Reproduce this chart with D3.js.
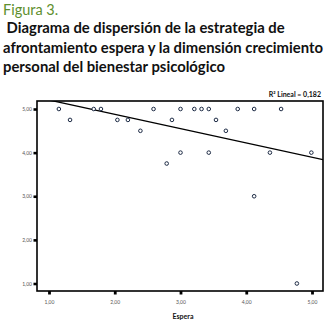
<!DOCTYPE html>
<html>
<head>
<meta charset="utf-8">
<script src="https://cdn.jsdelivr.net/npm/d3@7"></script>
<style>
  body { margin: 0; background: #fff; }
  svg { display: block; }
</style>
</head>
<body>
<div id="vis"></div>
<script>
// Scatter: Espera (x) vs Crecimiento personal (y), SPSS-style with linear fit.

const TITLE_FIG   = "Figura 3.";
const TITLE_LINES = [
  " Diagrama de dispersión de la estrategia de",
  "afrontamiento espera y la dimensión crecimiento",
  "personal del bienestar psicológico",
];

const ESPERA = [1.15, 1.32, 1.68, 1.79, 2.04, 2.20, 2.39, 2.59, 2.79, 2.87,
                3.00, 3.21, 3.32, 3.43, 3.54, 3.69, 3.87, 4.12, 4.53,
                3.00, 3.43, 4.36, 4.99, 4.12, 4.77];
const CRECIM = [5.00, 4.75, 5.00, 5.00, 4.75, 4.75, 4.50, 5.00, 3.75, 4.75,
                5.00, 5.00, 5.00, 5.00, 4.75, 4.50, 5.00, 5.00, 5.00,
                4.00, 4.00, 4.00, 4.00, 3.00, 1.00];

const X_TICKS = [1, 2, 3, 4, 5];
const Y_TICKS = [1, 2, 3, 4, 5];
const FIT     = { intercept: 5.534, slope: -0.328 };
const R2_TEXT = "R² Lineal = 0,182";
const X_LABEL = "Espera";

const W = 328, H = 321;
const fmt = d => d3.format(".2f")(d).replace(".", ",");

const svg = d3.select("#vis").append("svg").attr("width", W).attr("height", H);

// ── Titles ──────────────────────────────────────────────────────────────────
svg.append("text")
  .attr("x", 3).attr("y", 15)
  .style("font-family", "Lato, 'Open Sans', sans-serif")
  .style("font-size", "14.5px").style("fill", "#5e8f2e")
  .text(TITLE_FIG);

const titleG = svg.append("g")
  .style("font-family", "Lato, 'Open Sans', sans-serif")
  .style("font-weight", "bold").style("fill", "#111");

const tl = titleG.selectAll("text").data(TITLE_LINES).join("text")
  .attr("x", 3).attr("y", (d, i) => 33 + i * 19.5)
  .attr("xml:space", "preserve")
  .style("white-space", "pre")
  .style("font-size", "16px")
  .text(d => d);

// fit longest line to its width in the figure
const w2 = tl.nodes()[1].getComputedTextLength();
tl.style("font-size", (16 * 320 / w2).toFixed(2) + "px");

// ── Plot ────────────────────────────────────────────────────────────────────
const plot = { left: 37, right: 323, top: 101, bottom: 291 };

const x = d3.scaleLinear().domain([1, 5]).range([49, 312]);
const y = d3.scaleLinear().domain([1, 5]).range([283.5, 109]);

svg.append("defs").append("clipPath").attr("id", "clip")
  .append("rect")
  .attr("x", plot.left).attr("y", plot.top)
  .attr("width", plot.right - plot.left).attr("height", plot.bottom - plot.top);

svg.append("rect")
  .attr("x", plot.left).attr("y", plot.top)
  .attr("width", plot.right - plot.left).attr("height", plot.bottom - plot.top)
  .attr("fill", "none").attr("stroke", "#000").attr("stroke-width", 1.6);

// y axis
svg.append("g")
  .attr("transform", `translate(${plot.left},0)`)
  .call(d3.axisLeft(y).tickValues(Y_TICKS).tickSize(3.5).tickPadding(1.5).tickFormat(fmt))
  .call(ax => ax.select(".domain").remove())
  .call(ax => ax.selectAll(".tick line").attr("stroke", "#000").attr("stroke-width", 2.6))
  .selectAll("text")
    .style("font-family", "Lato, sans-serif").style("font-size", "5px").style("fill", "#555");

// x axis
svg.append("g")
  .attr("transform", `translate(0,${plot.bottom})`)
  .call(d3.axisBottom(x).tickValues(X_TICKS).tickSize(3.5).tickPadding(6).tickFormat(fmt))
  .call(ax => ax.select(".domain").remove())
  .call(ax => ax.selectAll(".tick line").attr("stroke", "#000").attr("stroke-width", 2.8))
  .selectAll("text")
    .style("font-family", "Lato, sans-serif").style("font-size", "5px").style("fill", "#555");

// fit line
const xd = x.invert(plot.left), xe = x.invert(plot.right);
svg.append("line")
  .attr("clip-path", "url(#clip)")
  .attr("x1", x(xd)).attr("y1", y(FIT.intercept + FIT.slope * xd))
  .attr("x2", x(xe)).attr("y2", y(FIT.intercept + FIT.slope * xe))
  .attr("stroke", "#000").attr("stroke-width", 1.3);

// points
svg.append("g")
  .selectAll("circle")
  .data(d3.zip(ESPERA, CRECIM))
  .join("circle")
    .attr("cx", d => x(d[0])).attr("cy", d => y(d[1]))
    .attr("r", 1.8)
    .attr("fill", "#fff").attr("stroke", "#1c2a44").attr("stroke-width", 1);

// labels
svg.append("text")
  .attr("x", 321).attr("y", 97).attr("text-anchor", "end")
  .style("font-family", "Lato, sans-serif").style("font-weight", "bold")
  .style("font-size", "7px").style("fill", "#111")
  .text(R2_TEXT);

svg.append("text")
  .attr("x", 183).attr("y", 319).attr("text-anchor", "middle")
  .style("font-family", "Lato, sans-serif").style("font-weight", "bold")
  .style("font-size", "7px").style("fill", "#111")
  .text(X_LABEL);
</script>
</body>
</html>
